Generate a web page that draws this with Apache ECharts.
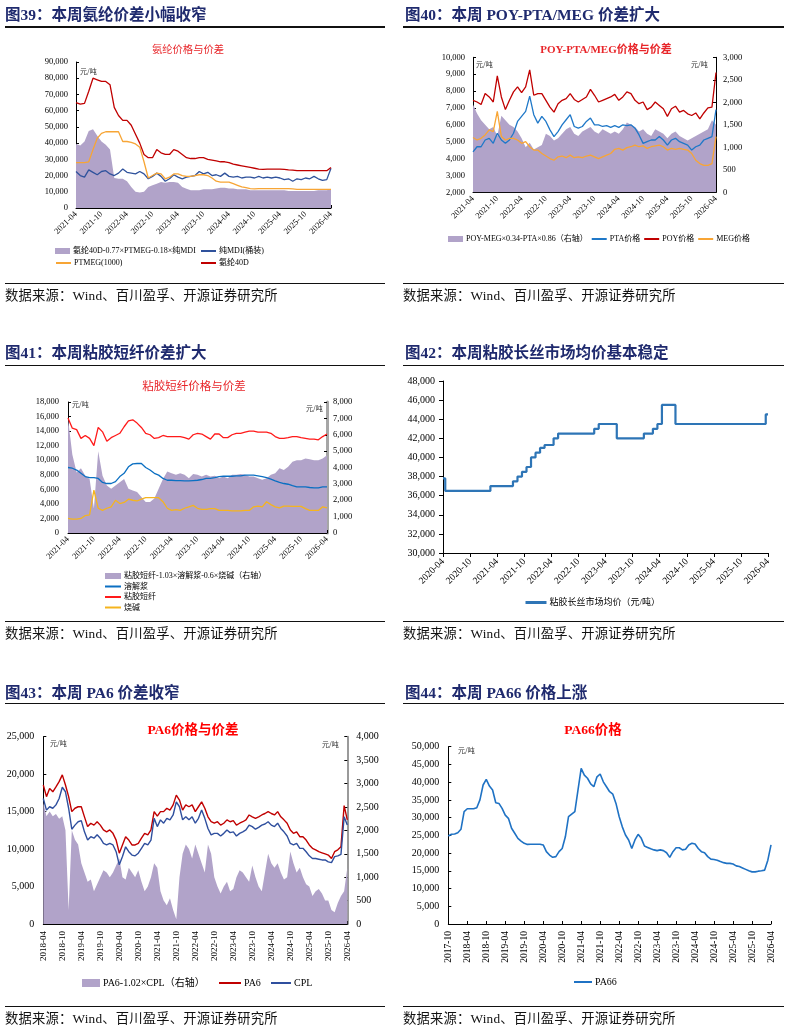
<!DOCTYPE html>
<html><head><meta charset="utf-8">
<script src="https://cdn.jsdelivr.net/npm/echarts/dist/echarts.min.js"></script>
<style>
body{margin:0;background:#fff;}
#wrap{position:relative;width:795px;height:1029px;overflow:hidden;}
#chart{position:absolute;left:0;top:0;width:795px;height:1029px;}
.h{position:absolute;font-family:"Liberation Serif","Noto Sans CJK SC",serif;font-weight:bold;font-size:15.5px;color:#1f2a6e;white-space:nowrap;line-height:16px;}
.src{position:absolute;font-family:"Liberation Serif","Noto Sans CJK SC",serif;font-size:13.3px;color:#111;white-space:nowrap;line-height:14px;letter-spacing:0.2px;}
.rule{position:absolute;height:1.5px;background:#111;}
.ct{position:absolute;font-family:"Liberation Serif","Noto Sans CJK SC",serif;color:#e8262a;white-space:nowrap;transform:translate(-50%,-50%);line-height:1;}
.unit{position:absolute;font-family:"Noto Sans CJK SC",sans-serif;font-size:7px;color:#333;white-space:nowrap;line-height:1;transform:translateY(-50%);}
</style></head>
<body><div id="wrap">
<div id="chart"></div>
<div class="h" style="left:5px;top:7px;">图39：本周氨纶价差小幅收窄</div>
<div class="h" style="left:405px;top:7px;">图40：本周 POY-PTA/MEG 价差扩大</div>
<div class="h" style="left:5px;top:345px;">图41：本周粘胶短纤价差扩大</div>
<div class="h" style="left:405px;top:345px;">图42：本周粘胶长丝市场均价基本稳定</div>
<div class="h" style="left:5px;top:685px;">图43：本周 PA6 价差收窄</div>
<div class="h" style="left:405px;top:685px;">图44：本周 PA66 价格上涨</div>
<div class="rule" style="left:5px;width:380px;top:26px;"></div>
<div class="rule" style="left:403px;width:381px;top:26px;"></div>
<div class="rule" style="left:5px;width:380px;top:364.5px;"></div>
<div class="rule" style="left:403px;width:381px;top:364.5px;"></div>
<div class="rule" style="left:5px;width:380px;top:702.5px;"></div>
<div class="rule" style="left:403px;width:381px;top:702.5px;"></div>
<div class="rule" style="left:5px;width:380px;top:282.5px;"></div>
<div class="rule" style="left:403px;width:381px;top:282.5px;"></div>
<div class="rule" style="left:5px;width:380px;top:620.5px;"></div>
<div class="rule" style="left:403px;width:381px;top:620.5px;"></div>
<div class="rule" style="left:5px;width:380px;top:1005.5px;"></div>
<div class="rule" style="left:403px;width:381px;top:1005.5px;"></div>
<div class="src" style="left:5px;top:289px;">数据来源：Wind、百川盈孚、开源证券研究所</div>
<div class="src" style="left:403px;top:289px;">数据来源：Wind、百川盈孚、开源证券研究所</div>
<div class="src" style="left:5px;top:627px;">数据来源：Wind、百川盈孚、开源证券研究所</div>
<div class="src" style="left:403px;top:627px;">数据来源：Wind、百川盈孚、开源证券研究所</div>
<div class="src" style="left:5px;top:1012px;">数据来源：Wind、百川盈孚、开源证券研究所</div>
<div class="src" style="left:403px;top:1012px;">数据来源：Wind、百川盈孚、开源证券研究所</div>
<div class="ct" style="left:188px;top:50px;font-size:10.3px;">氨纶价格与价差</div>
<div class="ct" style="left:606px;top:49px;font-size:11px;font-weight:bold;">POY-PTA/MEG价格与价差</div>
<div class="ct" style="left:194px;top:387px;font-size:11.5px;">粘胶短纤价格与价差</div>
<div class="ct" style="left:193px;top:730px;font-size:13.5px;font-weight:bold;color:#ff0000;">PA6价格与价差</div>
<div class="ct" style="left:593px;top:730px;font-size:13.5px;font-weight:bold;color:#ff0000;">PA66价格</div>
<div class="unit" style="left:80px;top:71px;">元/吨</div>
<div class="unit" style="left:476px;top:64px;">元/吨</div>
<div class="unit" style="left:691px;top:64px;">元/吨</div>
<div class="unit" style="left:72px;top:404px;">元/吨</div>
<div class="unit" style="left:306px;top:408px;">元/吨</div>
<div class="unit" style="left:50px;top:743px;">元/吨</div>
<div class="unit" style="left:322px;top:744px;">元/吨</div>
<div class="unit" style="left:458px;top:750px;">元/吨</div>
</div>
<script>
// ---------- category (month) labels ----------
function monthList(start, n){
  let [y,m] = start.split('-').map(Number); const out=[];
  for(let i=0;i<n;i++){ out.push(y+'-'+String(m).padStart(2,'0')); m++; if(m>12){m=1;y++;} }
  return out;
}
const p1Months = monthList('2021-04', 61);
const p2Months = monthList('2021-04', 61);
const p3Months = monthList('2021-04', 61);
const p4Months = monthList('2020-04', 73);
const p5Months = monthList('2018-04', 97);
const p6Months = monthList('2017-10', 103);

// ---------- Panel 1: spandex ----------
const p1Spread = [39500,38500,41000,47500,48500,44500,41000,39000,36000,18500,
  18000,18000,16500,13000,10000,9500,10000,13000,14000,15000,
  16000,15500,16000,16000,15500,13000,11800,11000,11000,11000,
  11500,11500,11500,12000,12500,12500,12000,12000,11500,11500,
  11500,11000,11000,11000,11000,11000,11000,11000,11000,11000,
  10500,10500,10500,10500,10500,10500,10500,11000,11000,11000,11500];
const p1MDI = [22500,20000,19000,23500,22000,20500,22500,23000,21000,20000,
  21500,24000,22000,21500,21000,22500,21000,18000,19500,21500,
  19500,16500,18000,20500,19000,18000,19000,19500,20000,22500,
  21000,22000,20000,20500,19500,21500,19500,19000,19500,18500,
  19000,19000,18500,19500,18500,19000,18500,19000,18500,17500,
  18000,16500,18000,17500,18500,18000,19500,18000,17000,17500,24500];
const p1PTMEG = [28000,28000,28000,28500,36000,43000,46000,47000,47000,47000,
  47000,41000,41000,40500,39500,37500,28500,18500,20000,21500,
  21000,18000,19000,21000,21000,20000,19500,19500,20000,20500,
  20500,20000,18500,16500,16000,16000,16000,15000,14000,13000,
  12500,12000,11800,12000,12000,12000,12000,12000,12000,12000,
  12000,11800,11500,11500,11500,11500,11500,11500,11500,11500,11500];
const p1Spandex = [65000,64000,64500,72000,80000,79000,78000,78000,76000,62000,
  57000,54000,54000,51000,45500,40000,33000,31000,31000,36000,
  34000,33000,33000,36000,35000,33000,31000,30500,30500,31000,
  31000,30000,29500,29000,28500,28500,28000,27000,26500,26000,
  25500,25000,24500,24000,23800,24000,24000,24000,24000,23800,
  23500,23300,23000,23000,23000,23000,23000,23000,23000,23000,25000];

// ---------- Panel 2: POY ----------
const p2POY = [7450,7350,7200,7850,7650,7350,8900,7650,6900,7450,
  7950,8250,7900,8250,9250,7750,7850,7850,7450,7050,
  6750,7250,7450,7550,7850,7500,7350,7500,7650,8100,
  7750,7350,7450,7550,7650,7800,7450,7650,7950,7850,
  7450,7250,7350,6900,7050,7350,7150,6950,6500,6950,
  7100,6750,6850,6650,6550,6700,6350,6700,7000,7050,9100];
const p2PTA = [4400,4700,4700,5100,5200,4900,5500,5100,4900,5100,
  5500,6200,6500,6800,7700,6600,6100,6500,6200,5700,
  5300,5600,6000,6300,6600,5900,5800,5900,6200,6400,
  6000,6000,5900,5950,5850,5950,5850,6000,5950,6000,
  5800,5400,4900,5000,5100,5100,5300,5100,4800,5100,
  5200,5000,4900,4800,4500,4700,4800,5100,5200,5300,6900];
const p2MEG = [5250,5100,5200,5400,5700,5600,6800,5300,5100,5200,
  5200,5100,4900,5000,4700,4500,4500,4300,4150,4000,
  3900,4100,4150,4050,4200,4050,4100,4050,4150,4200,
  4100,4000,4100,4200,4300,4550,4600,4500,4650,4700,
  4800,4700,4750,4600,4700,4750,4800,4700,4500,4600,
  4550,4600,4550,4500,4300,3900,3700,3600,3600,3700,5300];
const p2Spread = [1950,1750,1600,1500,1400,1450,1250,1700,1600,1500,
  1450,1350,1200,1000,1100,950,1000,1050,1300,1250,
  1150,1200,1300,1400,1450,1300,1250,1350,1400,1450,
  1350,1300,1400,1350,1300,1350,1300,1400,1550,1500,
  1450,1350,1400,1300,1250,1400,1350,1300,1200,1300,
  1350,1250,1200,1150,1200,1250,1300,1350,1400,1600,1500];

// ---------- Panel 3: viscose staple ----------
const p3Viscose = [15800,14400,14200,13000,13400,13000,12000,14500,13900,12600,
  13100,13400,13700,14600,15400,15550,15100,14500,13700,13500,
  13000,13100,13400,13250,13250,13250,13250,13100,12900,13500,
  13700,13600,13250,12900,13600,13600,13100,13100,13500,13700,
  13700,13850,14000,14000,13850,13850,13850,13700,13250,13000,
  13000,13100,13250,13250,13100,13000,12900,12900,12800,13250,13600];
const p3Pulp = [9000,8900,8650,8200,7750,7600,7600,7500,6950,6800,
  6800,7050,7750,8200,9100,9500,9550,9550,9000,8650,
  8200,7950,7500,7250,7250,7200,7200,7150,7150,7200,
  7250,7350,7500,7500,7600,7750,7800,7800,7800,7850,
  7850,7950,7950,7950,7850,7750,7600,7400,7150,6950,
  6800,6700,6500,6350,6350,6350,6250,6200,6200,6350,6350];
const p3Soda = [2000,1900,1900,2000,2400,2500,5900,3400,3100,3400,
  3600,4500,4050,4200,4650,4500,4400,4650,4850,4850,
  4850,4850,4300,3400,3100,3200,3100,3400,3600,3800,
  3400,3250,3250,3350,3350,3100,3100,3100,3050,3050,
  3050,3100,3100,3600,3700,3600,4300,3900,3600,3450,
  3700,3700,3650,3650,3650,3350,3100,3100,3100,3600,3450];
const p3Spread = [7000,4800,3700,3950,3500,3300,1500,5000,3500,2900,
  2700,2900,3100,3300,2700,2600,2500,2200,1900,1900,
  2100,2700,3300,3750,3650,3550,3650,3550,3350,3600,
  3550,3450,3550,3450,3500,3350,3450,3350,3550,3550,
  3600,3550,3450,3450,3350,3250,3350,3550,3650,3950,
  3850,4050,4350,4450,4450,4550,4500,4450,4450,4550,4750];

// ---------- Panel 4: viscose filament ----------
const p4Filament = [37800,36500,36500,36500,36500,36500,36500,36500,36500,36500,
  36500,37000,37000,37000,37000,37000,37500,38000,38500,39000,
  40000,40500,41000,41300,41300,42000,42500,42500,42500,42500,
  42500,42500,42500,42500,43000,43500,43500,43500,43500,42000,
  42000,42000,42000,42000,42000,42500,42500,43000,43500,45500,
  45500,45500,43500,43500,43500,43500,43500,43500,43500,43500,
  43500,43500,43500,43500,43500,43500,43500,43500,43500,43500,
  43500,43500,44500];

// ---------- Panel 5: PA6 ----------
const p5PA6 = [18550,17000,18100,17650,18300,19000,19900,18550,17000,15000,
  15450,15650,15650,14300,13000,13450,13200,13650,13200,12550,
  12300,12550,12100,11200,9450,10550,11650,11200,10550,10550,
  10750,11450,12100,11900,12550,15000,14400,15000,15000,15450,
  15200,15900,17200,16550,15200,15900,15650,15900,15000,15650,
  16300,15450,14300,13650,13450,13650,13200,13450,13900,13650,
  13800,13200,13450,13650,13900,14550,14300,14100,14300,14550,
  14750,15000,14750,14550,15000,14300,13900,13450,12550,12100,
  12300,11650,11650,11200,10550,10100,9900,9650,9500,9350,
  9200,8750,9650,9900,10300,15800,13900];
const p5CPL = [16750,15200,15650,15450,15900,16750,18250,17650,15450,12650,
  13200,13650,13800,12300,11200,11650,11450,11900,11450,10750,
  10550,10750,10550,9650,7900,9000,10300,9650,9200,9100,
  9450,10100,10750,10550,11200,14100,13000,13900,13450,14100,
  13900,14550,16300,15650,13900,14300,13900,14300,13450,14100,
  15200,14100,12750,11900,12100,12100,11750,12100,12550,12200,
  12300,11750,12100,12300,12550,13200,13000,12650,12900,13200,
  13350,13650,13200,13000,13450,12750,12300,11750,10750,10550,
  10750,10100,10100,9650,9100,8750,8750,8650,8550,8550,
  8300,8200,9000,9100,9300,14300,13200];
const p5Spread = [2600,2300,2400,2300,2350,2250,2300,2000,300,2000,
  1800,1700,1300,1100,900,950,700,850,1000,1150,
  1100,1000,1100,1250,1400,1000,950,1200,1100,1000,
  1150,900,700,800,1000,1300,1200,700,500,400,
  550,300,100,1000,1500,1700,1600,1400,1700,1500,
  1300,1100,1700,1500,1000,800,650,800,900,700,
  750,1000,1150,1100,1000,900,1250,1000,800,700,
  1100,1500,1300,1200,1300,1100,950,1000,1550,1300,
  1100,1200,1000,850,800,600,700,750,650,500,
  500,300,250,450,600,700,1200];

// ---------- Panel 6: PA66 ----------
const p6PA66 = [24800,25300,25400,25750,26700,31700,32500,32500,32500,32800,
  35000,39200,40800,38900,37800,34200,34000,32600,30700,29800,
  27000,25600,24150,23400,22750,22450,22500,22500,22500,22500,
  22300,20400,19450,18800,19000,20400,21300,24600,30300,31000,
  31700,37800,43900,42000,41100,39500,38700,41500,42300,40100,
  38700,37300,36600,34000,30300,27400,25100,23700,21300,23700,
  25300,24150,22000,21600,21200,20900,20700,20900,20700,20100,
  18800,20400,21500,21500,20900,21100,22300,22750,22550,21300,
  20400,20100,19000,18300,18200,18000,17600,17300,17100,17100,
  16900,16400,16200,15800,15400,15000,14700,14700,14900,15000,
  15200,18000,22300];

// ---------- names ----------
const N1 = {spread:'氨纶40D-0.77×PTMEG-0.18×纯MDI', mdi:'纯MDI(桶装)', ptmeg:'PTMEG(1000)', spandex:'氨纶40D'};
const N2 = {spread:'POY-MEG×0.34-PTA×0.86（右轴）', pta:'PTA价格', poy:'POY价格', meg:'MEG价格'};
const N3 = {spread:'粘胶短纤-1.03×溶解浆-0.6×烧碱（右轴）', pulp:'溶解浆', vsf:'粘胶短纤', soda:'烧碱'};
const N4 = '粘胶长丝市场均价（元/吨）';
const N5 = {spread:'PA6-1.02×CPL（右轴）', pa6:'PA6', cpl:'CPL'};
const N6 = 'PA66';

const FONT = '"Liberation Serif","Noto Sans CJK SC",serif';
const PURPLE = '#b1a3c9';
const fmt = v => Number(v).toLocaleString('en-US');

function xAx(gi, data, o){
  return {type:'category', gridIndex:gi, data:data, boundaryGap:false,
    axisLine:{show:true, lineStyle:{color:'#000', width:1}},
    axisTick:{show:true, inside:o.inside, length:o.tlen||3, interval:o.interval, lineStyle:{color:'#000'}},
    axisLabel:{interval:o.interval, rotate:o.rotate, fontSize:o.fs, margin:o.margin, color:'#000', fontFamily:FONT, hideOverlap:false},
    splitLine:{show:false}};
}
function yAx(gi, min, max, interval, o){
  return {type:'value', gridIndex:gi, min:min, max:max, interval:interval, position:o.pos||'left',
    axisLine:{show:true, lineStyle:{color:o.lc||'#000', width:o.lw||1}},
    axisTick:{show:true, inside:o.inside, length:o.tlen||3, lineStyle:{color:'#000'}},
    axisLabel:{fontSize:o.fs, margin:o.margin, color:'#000', fontFamily:FONT, formatter:fmt},
    splitLine:{show:false}};
}
function line(name, xi, yi, data, color, w, extra){
  return Object.assign({type:'line', name:name, xAxisIndex:xi, yAxisIndex:yi, data:data, symbol:'none',
    lineStyle:{color:color, width:w}, itemStyle:{color:color}, animation:false, silent:true}, extra||{});
}
function area(name, xi, yi, data){
  return {type:'line', name:name, xAxisIndex:xi, yAxisIndex:yi, data:data, symbol:'none',
    lineStyle:{width:0, color:PURPLE}, itemStyle:{color:PURPLE}, areaStyle:{color:PURPLE, opacity:1},
    animation:false, silent:true, z:1};
}
// legend items: line entries hide the symbol dot
const L = (name, lw) => (lw ? {name:name, itemStyle:{opacity:0}, lineStyle:{width:lw}} : {name:name, itemStyle:{opacity:0}});
const R = name => ({name:name, icon:'rect'});
function leg(items, left, top, o){
  o = o||{};
  return {left:left, top:top, padding:0, selectedMode:false, orient:o.orient||'horizontal',
    itemWidth:o.iw||15, itemHeight:o.ih||6, itemGap:(o.gap!==undefined?o.gap:4),
    textStyle:Object.assign({fontSize:o.fs||8, color:'#000', fontFamily:FONT, padding:[0,0,0,-2]}, o.ts||{}),
    data:items};
}

const C1 = {red:'#c00000', blue:'#2f529c', orange:'#f7a535'};
const C2 = {red:'#c00000', blue:'#1f78c8', orange:'#f8a535'};
const C3 = {red:'#ff1a1a', blue:'#0b6fc2', orange:'#f5b41e'};

const option = {
  animation:false,
  grid:[
    {left:76, top:62, width:255, height:146, outerBoundsMode:'none'},
    {left:473, top:57.3, width:243, height:135, outerBoundsMode:'none'},
    {left:68, top:402, width:259, height:131, outerBoundsMode:'none'},
    {left:443, top:381, width:325, height:172, outerBoundsMode:'none'},
    {left:43.3, top:736.7, width:304, height:187.3, outerBoundsMode:'none'},
    {left:448.3, top:746.7, width:322.7, height:177.3, outerBoundsMode:'none'}
  ],
  xAxis:[
    xAx(0, p1Months, {interval:5, rotate:45, fs:8.5, margin:5, inside:true}),
    xAx(1, p2Months, {interval:5, rotate:45, fs:8.5, margin:5, inside:true}),
    xAx(2, p3Months, {interval:5, rotate:45, fs:8.5, margin:5, inside:true}),
    xAx(3, p4Months, {interval:5, rotate:45, fs:9.5, margin:7, inside:false, tlen:4}),
    xAx(4, p5Months, {interval:5, rotate:90, fs:9, margin:7, inside:true}),
    xAx(5, p6Months, {interval:5, rotate:90, fs:9.5, margin:7, inside:true})
  ],
  yAxis:[
    yAx(0, 0, 90000, 10000, {fs:8.5, margin:8, inside:true}),
    yAx(1, 2000, 10000, 1000, {fs:8.5, margin:8, inside:true}),
    yAx(1, 0, 3000, 500, {fs:8.5, margin:7, inside:true, pos:'right'}),
    yAx(2, 0, 18000, 2000, {fs:8.5, margin:9, inside:true}),
    yAx(2, 0, 8000, 1000, {fs:8.5, margin:6, inside:true, pos:'right', lc:'#a6a6a6', lw:3}),
    yAx(3, 30000, 48000, 2000, {fs:10, margin:8, inside:false, tlen:4}),
    yAx(4, 0, 25000, 5000, {fs:10, margin:9, inside:true}),
    yAx(4, 0, 4000, 500, {fs:10, margin:9, inside:true, pos:'right', lc:'#9a9a9a', lw:2}),
    yAx(5, 0, 50000, 5000, {fs:10, margin:9, inside:true})
  ],
  legend:[
    leg([R(N1.spread)], 55, 247),
    leg([L(N1.mdi)], 200, 247),
    leg([L(N1.ptmeg)], 55, 259),
    leg([L(N1.spandex)], 200, 259),
    leg([R(N2.spread), L(N2.pta), L(N2.poy), L(N2.meg)], 448, 235, {iw:15, gap:3}),
    leg([R(N3.spread), L(N3.pulp), L(N3.vsf), L(N3.soda)], 104, 572, {orient:'vertical', gap:2.5, iw:16, ih:6}),
    leg([L(N4, 3)], 524, 598, {iw:21, ih:8, fs:9}),
    leg([R(N5.spread)], 82, 978, {iw:18, ih:8, fs:10}),
    leg([L(N5.pa6)], 218, 978, {iw:22, ih:8, fs:10}),
    leg([L(N5.cpl)], 270, 978, {iw:20, ih:8, fs:10}),
    leg([L(N6)], 573, 977, {iw:18, ih:8, fs:10})
  ],
  series:[
    area(N1.spread, 0, 0, p1Spread),
    line(N1.mdi, 0, 0, p1MDI, C1.blue, 1.3),
    line(N1.ptmeg, 0, 0, p1PTMEG, C1.orange, 1.3),
    line(N1.spandex, 0, 0, p1Spandex, C1.red, 1.3),

    area(N2.spread, 1, 2, p2Spread),
    line(N2.pta, 1, 1, p2PTA, C2.blue, 1.3),
    line(N2.poy, 1, 1, p2POY, C2.red, 1.3),
    line(N2.meg, 1, 1, p2MEG, C2.orange, 1.3),

    area(N3.spread, 2, 4, p3Spread),
    line(N3.pulp, 2, 3, p3Pulp, C3.blue, 1.3),
    line(N3.vsf, 2, 3, p3Viscose, C3.red, 1.3),
    line(N3.soda, 2, 3, p3Soda, C3.orange, 1.3),

    line(N4, 3, 5, p4Filament, '#2e75b6', 2.2, {step:'middle'}),

    area(N5.spread, 4, 7, p5Spread),
    line(N5.pa6, 4, 6, p5PA6, '#c00000', 1.4),
    line(N5.cpl, 4, 6, p5CPL, '#2f4f9e', 1.4),

    line(N6, 5, 8, p6PA66, '#1f72c4', 1.6)
  ]
};
const chart = echarts.init(document.getElementById('chart'), null, {renderer:'canvas'});
chart.setOption(option);
</script>
</body></html>
